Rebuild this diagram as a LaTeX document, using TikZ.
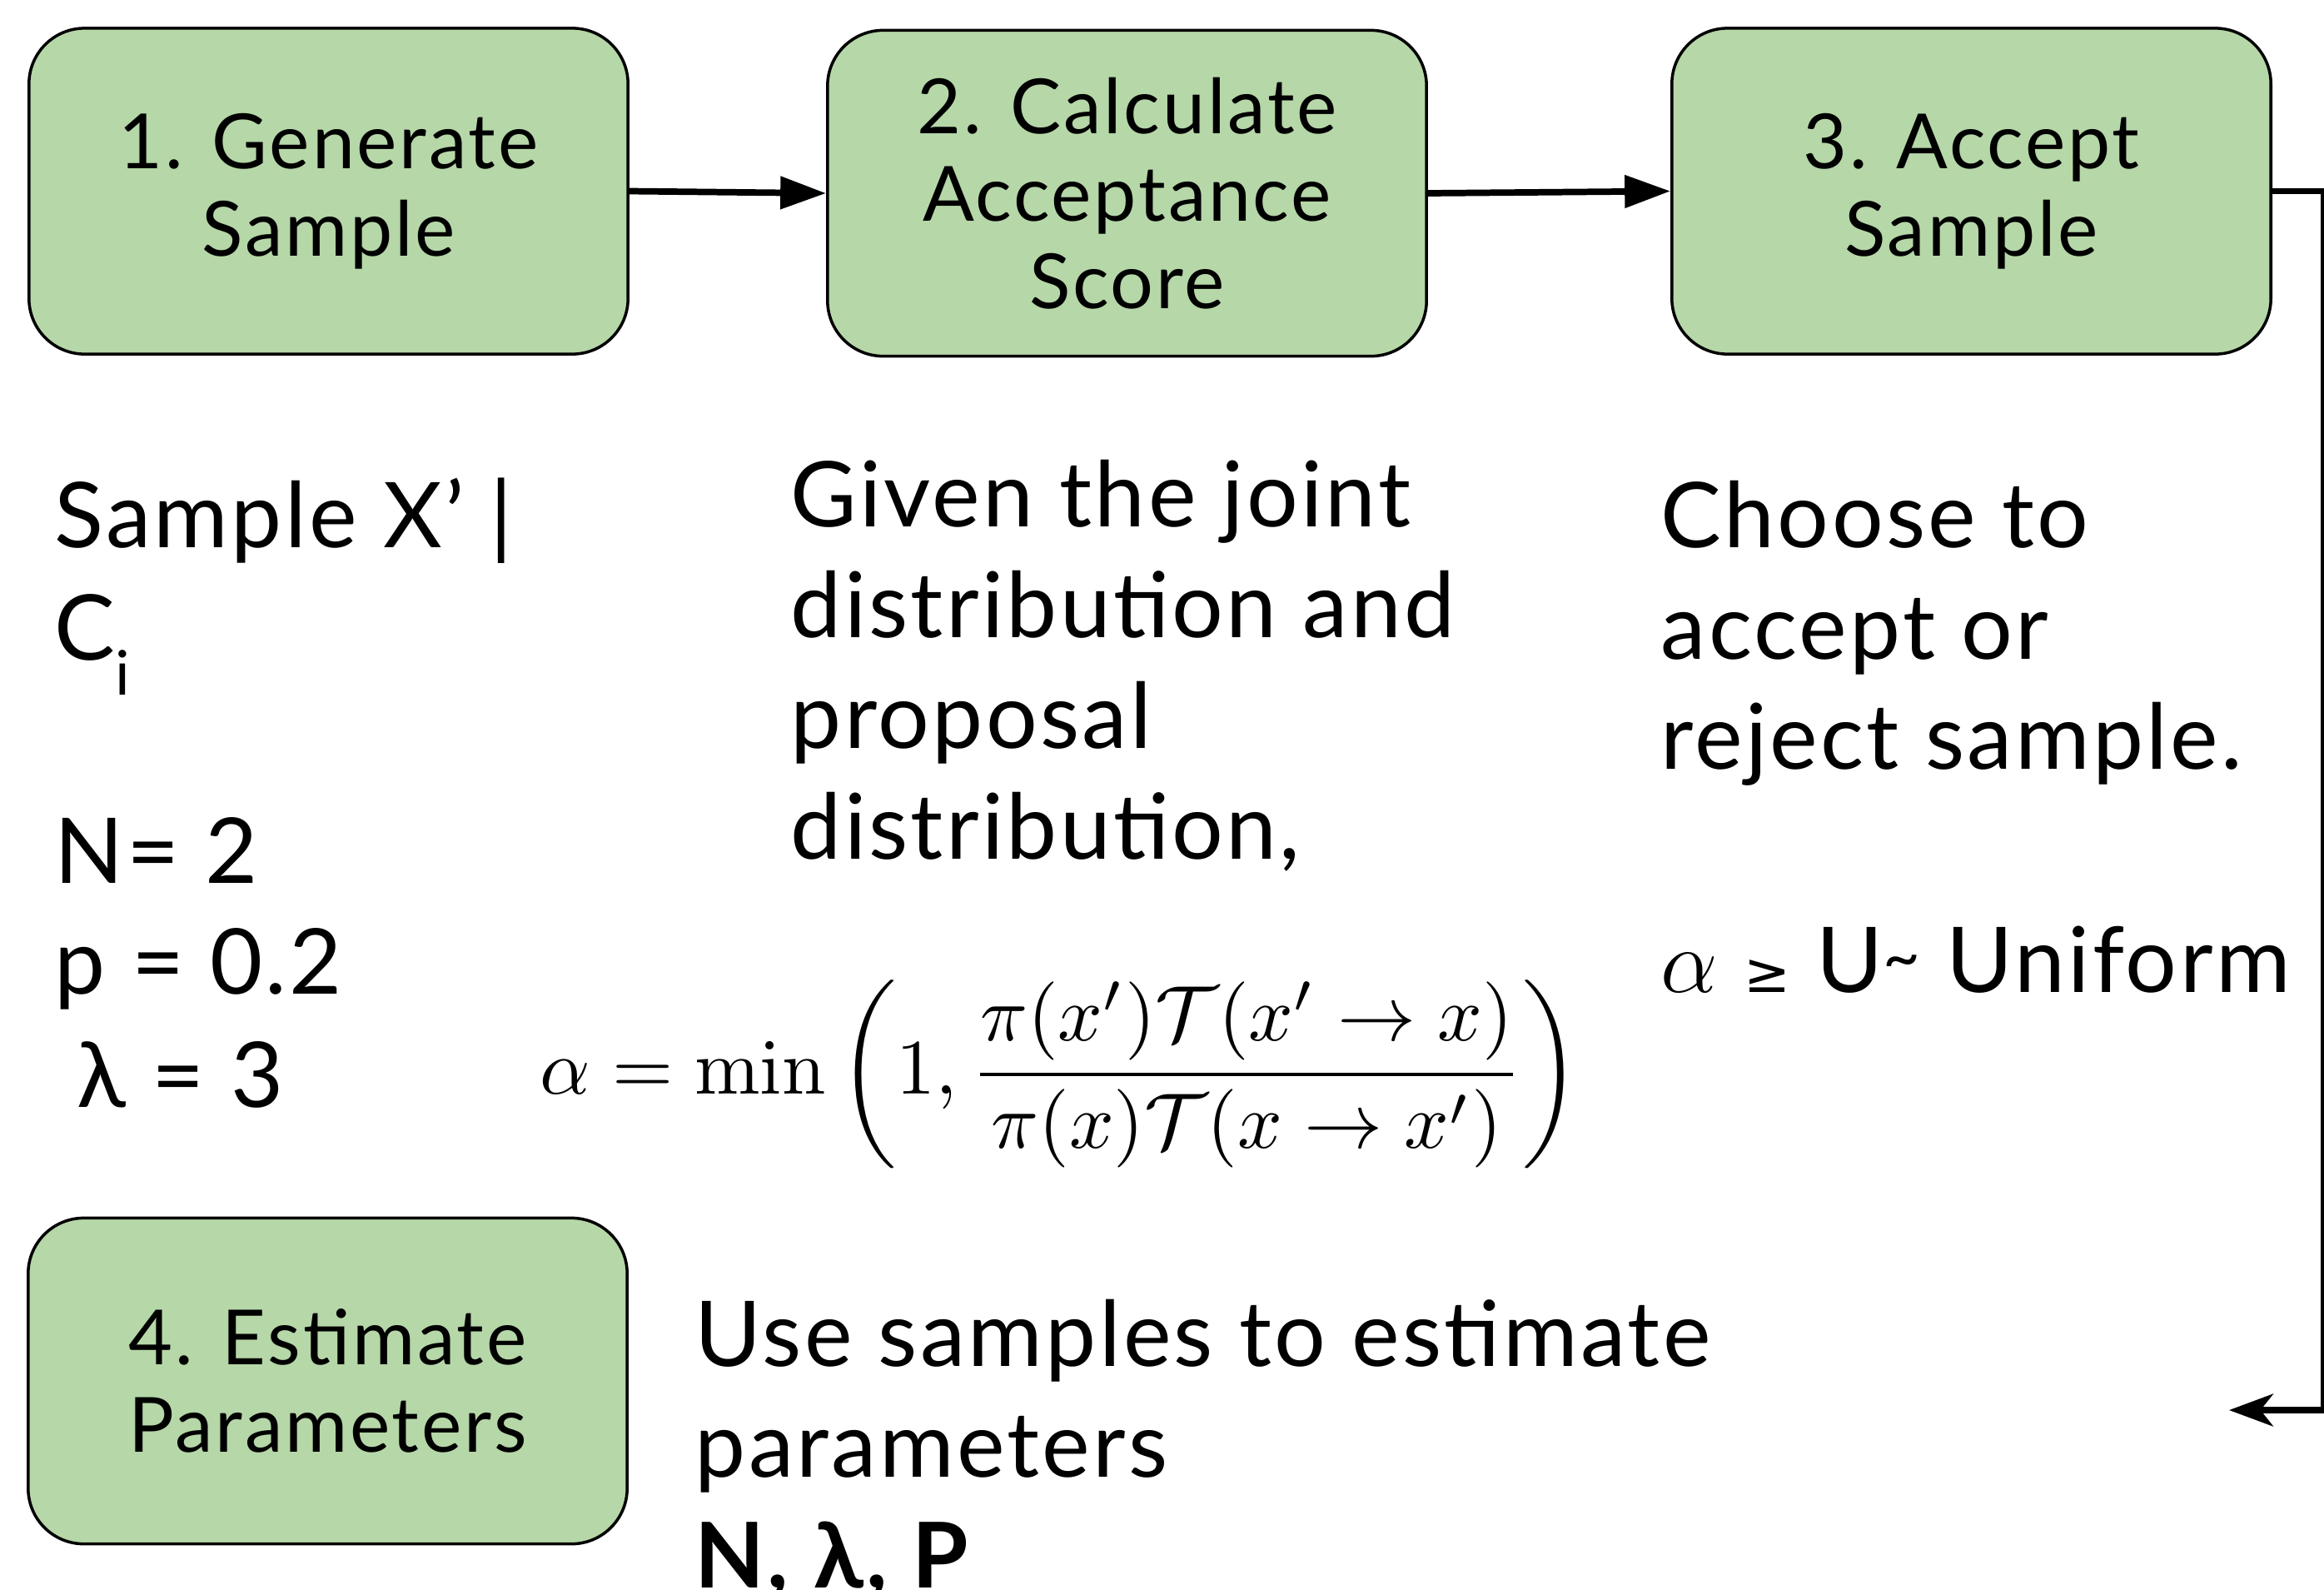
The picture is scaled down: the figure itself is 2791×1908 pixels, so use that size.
\RequirePackage{fix-cm}
\documentclass[tikz,border=0pt]{standalone}
\usepackage{graphicx}
\usepackage{amsmath}
\usepackage[no-math]{fontspec}
\setmainfont{Lato}[LetterSpace=3]
\newfontfamily\symfont{DejaVu Sans}
\usetikzlibrary{arrows.meta}
\definecolor{boxgreen}{HTML}{B6D7A8}
\tikzset{
  stepbox/.style={draw=black, line width=1pt, fill=boxgreen, rounded corners=19pt,
    minimum width=7.19cm, minimum height=3.91cm, align=center, inner sep=0pt,
    font=\fontsize{26}{29.9}\selectfont},
  txt/.style={anchor=base west, inner sep=0pt, font=\fontsize{31}{38}\selectfont},
  conn/.style={line width=2.2pt},
  tri/.style={-{Triangle[length=15.6pt,width=10.8pt]}},
  stl/.style={-{Stealth[length=15pt,width=11pt,inset=4.3pt]}}
}
\begin{document}
\begin{tikzpicture}[x=0.01cm,y=-0.01cm]
\useasboundingbox (0,0) rectangle (2791,1908);
\clip (0,0) rectangle (2791,1908);
\fill[white] (0,0) rectangle (2791,1908);

\node[stepbox] (b1) at (394.5,229.5) {1. Generate\\Sample};
\node[stepbox] (b2) at (1353.5,232) {2. Calculate\\Acceptance\\Score};
\node[stepbox] (b3) at (2367.5,229.5) {3. Accept\\Sample};
\node[stepbox] (b4) at (393.5,1658) {4. Estimate\\Parameters};

\draw[conn,tri] (b1.east) -- (b2.west);
\draw[conn,tri] (b2.east) -- (b3.west);
\coordinate (c1) at (2791,229.5);
\coordinate (c2) at (2791,1693);
\coordinate (c3) at (2677,1693);
\draw[conn,stl] (b3.east) -- (c1) -- (c2) -- (c3);

% left block
\node[txt] (l1) at (65,657) {Sample X’ |};
\node[txt] (l2) at (65,792) {C\raisebox{-12pt}{\fontsize{21}{21}\selectfont i}};
\node[txt] (l3) at (65,1060) {N= 2};
\node[txt] (l4) at (65,1193) {p = 0.2};
\node[txt] (l5) at (92,1329) {λ = 3};

% middle block
\node[txt] (m1) at (949,632) {Given the joint};
\node[txt] (m2) at (949,765) {distribution and};
\node[txt] (m3) at (949,898) {proposal};
\node[txt] (m4) at (949,1031) {distribution,};

% formula
\node[inner sep=0pt] (f) at (1273,1290) {\scalebox{2.68}{$\displaystyle \alpha=\min\left(1,\frac{\pi(x')\mathcal{T}(x'\rightarrow x)}{\pi(x)\mathcal{T}(x\rightarrow x')}\right)$}};

% right block
\node[txt] (r1) at (1994,657) {Choose to};
\node[txt] (r2) at (1994,791) {accept or};
\node[txt] (r3) at (1994,923) {reject sample.};
\node[txt] (r4) at (1994,1191) {$\alpha$ {\symfont\fontsize{19}{19}\selectfont ≥} U\raisebox{4pt}{\fontsize{22}{22}\selectfont\~{}} Uniform};

% bottom block
\node[txt] (u1) at (834,1640) {Use samples to estimate};
\node[txt] (u2) at (834,1773) {parameters};
\node[txt,font=\fontsize{31}{38}\selectfont\bfseries] (u3) at (834,1906) {N, λ, P};
\end{tikzpicture}
\end{document}
